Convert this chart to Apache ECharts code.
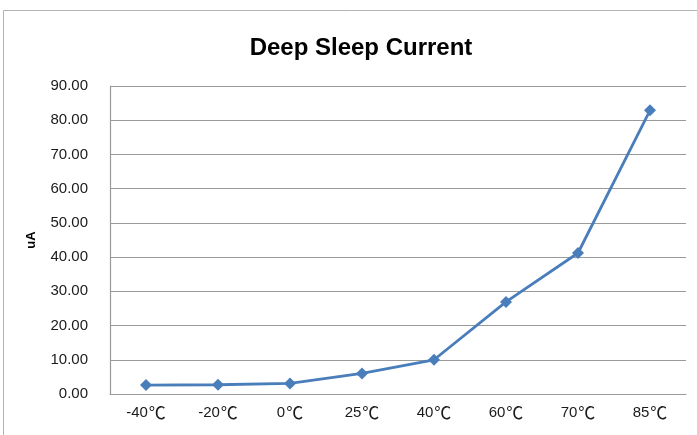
<!DOCTYPE html>
<html>
<head>
<meta charset="utf-8">
<script src="https://cdn.jsdelivr.net/npm/echarts@6/dist/echarts.min.js"></script>
<style>
  html, body { margin: 0; padding: 0; background: #ffffff; }
  #chart { width: 697px; height: 435px; }
</style>
</head>
<body>
<div id="chart"></div>
<script>
// Temperature points and measured deep-sleep current (uA)
const temperatures = ['-40℃', '-20℃', '0℃', '25℃', '40℃', '60℃', '70℃', '85℃'];
const currentUA = [2.6, 2.7, 3.1, 6.0, 10.0, 26.9, 41.2, 82.9];
const yTicks = { min: 0, max: 90, step: 10 };

const chart = echarts.init(document.getElementById('chart'), null, { renderer: 'canvas' });

const labelFont = '"Liberation Sans", Arial, sans-serif';
const cjkFont = '"Noto Sans CJK SC", sans-serif';

// Split "-40℃" into number and a full-width degree sign
function tempLabel(v) {
  const m = v.match(/^(.*?)(℃)$/);
  if (!m) return v;
  return '{n|' + m[1] + '}{c|' + m[2] + '}';
}

chart.setOption({
  animation: false,
  backgroundColor: '#ffffff',
  graphic: [{
    type: 'rect',
    shape: { x: 3.5, y: 10.5, width: 720, height: 460 },
    style: { fill: 'none', stroke: '#b4b4b4', lineWidth: 1 },
    silent: true
  }],
  title: {
    text: 'Deep Sleep Current',
    left: 356,
    textAlign: 'center',
    top: 31,
    textStyle: {
      fontFamily: labelFont,
      fontSize: 24,
      fontWeight: 'bold',
      color: '#000000'
    }
  },
  grid: { left: 110, right: 11, top: 86, bottom: 41 },
  xAxis: {
    type: 'category',
    data: temperatures,
    boundaryGap: true,
    axisLine: { lineStyle: { color: '#9a9a9a', width: 1.2 } },
    axisTick: { show: false },
    axisLabel: {
      interval: 0,
      hideOverlap: false,
      margin: 10,
      formatter: tempLabel,
      rich: {
        n: { fontFamily: labelFont, fontSize: 15, color: '#1a1a1a' },
        c: { fontFamily: cjkFont, fontSize: 17, color: '#1a1a1a', padding: [0, 0, 0, 1] }
      }
    },
    splitLine: { show: false }
  },
  yAxis: {
    type: 'value',
    min: yTicks.min,
    max: yTicks.max,
    interval: yTicks.step,
    name: 'uA',
    nameLocation: 'middle',
    nameGap: 72,
    nameTextStyle: {
      fontFamily: labelFont,
      fontSize: 13,
      fontWeight: 'bold',
      color: '#000000'
    },
    axisLine: { show: true, lineStyle: { color: '#9a9a9a', width: 1.2 } },
    axisTick: { show: false },
    axisLabel: {
      margin: 22,
      fontFamily: labelFont,
      fontSize: 15,
      color: '#1a1a1a',
      formatter: v => v.toFixed(2)
    },
    splitLine: { lineStyle: { color: '#9a9a9a', width: 1.2 } }
  },
  series: [{
    type: 'line',
    data: currentUA,
    symbol: 'diamond',
    symbolSize: 12,
    lineStyle: { color: '#4a7ebb', width: 2.8 },
    itemStyle: { color: '#4a7ebb' }
  }]
});
</script>
</body>
</html>
